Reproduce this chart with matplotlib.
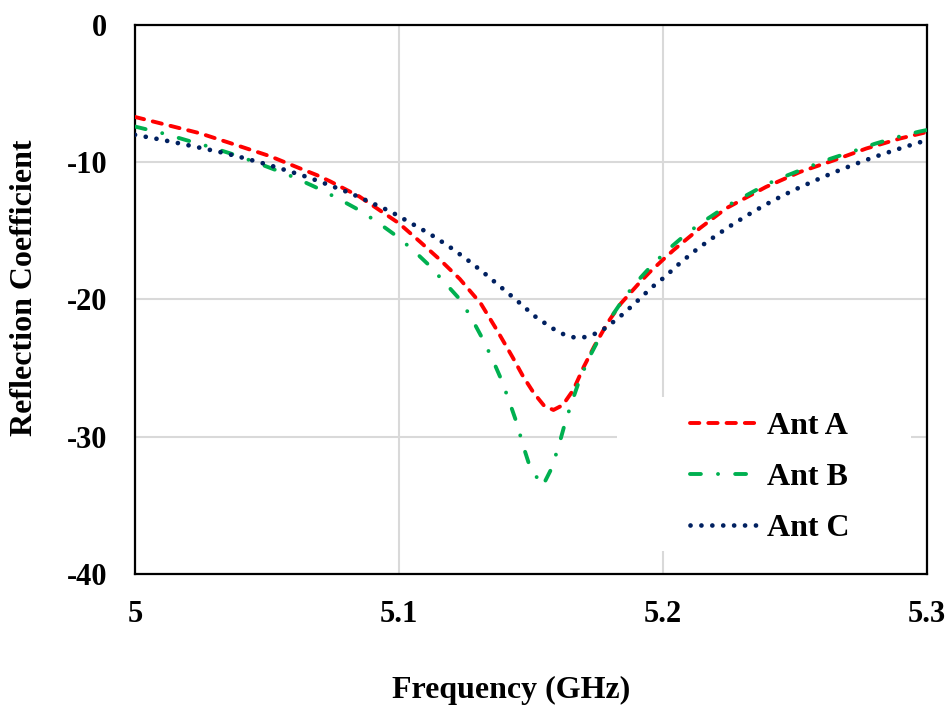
import matplotlib
matplotlib.use("Agg")
import matplotlib.pyplot as plt
from matplotlib.patches import Rectangle

# Ant A (red dashed)
freq_a = [5.000, 5.012, 5.0246, 5.036, 5.051, 5.0625, 5.0688, 5.074, 5.085, 5.100,
          5.108, 5.1155, 5.123, 5.131, 5.137, 5.143, 5.147, 5.151, 5.155, 5.1585,
          5.162, 5.166, 5.170, 5.174, 5.179, 5.184, 5.191, 5.195, 5.200, 5.204,
          5.214, 5.224, 5.239, 5.252, 5.265, 5.277, 5.290, 5.300]
s11_a = [-6.7, -7.28, -7.89, -8.6, -9.55, -10.45, -10.93, -11.4, -12.5, -14.45,
         -15.8, -17.1, -18.5, -20.3, -22.2, -24.2, -25.6, -26.8, -27.75, -28.05,
         -27.7, -26.6, -24.9, -23.4, -21.7, -20.3, -18.8, -18.0, -17.1, -16.4,
         -14.8, -13.35, -11.8, -10.7, -9.84, -9.0, -8.26, -7.8]

# Ant B (green dash-dot)
freq_b = [5.000, 5.0107, 5.0196, 5.0278, 5.036, 5.0442, 5.0524, 5.0603, 5.0682, 5.076,
          5.0836, 5.091, 5.0978, 5.1048, 5.1111, 5.117, 5.1231, 5.1273, 5.1319, 5.1355,
          5.1389, 5.1419, 5.1446, 5.1471, 5.1496, 5.1544, 5.1578, 5.1606, 5.1629, 5.1656,
          5.1683, 5.1721, 5.1755, 5.1803, 5.1856, 5.1906, 5.1963, 5.2029, 5.2096, 5.2166,
          5.2241, 5.2317, 5.2393, 5.2472, 5.2557, 5.2635, 5.2721, 5.280, 5.2885, 5.297, 5.300]
s11_b = [-7.4, -7.9, -8.4, -8.85, -9.35, -9.9, -10.5, -11.1, -11.8, -12.55,
         -13.35, -14.25, -15.2, -16.3, -17.45, -18.7, -20.0, -21.3, -22.95, -24.4,
         -25.9, -27.5, -29.0, -30.7, -32.2, -33.6, -32.3, -30.6, -29.0, -27.4,
         -25.9, -24.2, -22.95, -21.3, -19.8, -18.6, -17.4, -16.2, -15.1, -14.15,
         -13.2, -12.4, -11.6, -10.95, -10.3, -9.74, -9.2, -8.67, -8.18, -7.77, -7.65]

# Ant C (navy dotted)
freq_c = [5.000, 5.0084, 5.0167, 5.025, 5.0332, 5.0414, 5.0495, 5.0575, 5.0656, 5.0735,
          5.0814, 5.089, 5.0969, 5.1042, 5.1115, 5.1187, 5.1255, 5.1321, 5.1386, 5.1448,
          5.1513, 5.1581, 5.1619, 5.1658, 5.1701, 5.1742, 5.178, 5.1814, 5.1846, 5.1878,
          5.1909, 5.1939, 5.1971, 5.2004, 5.2067, 5.2131, 5.220, 5.227, 5.2342, 5.2416,
          5.2491, 5.2568, 5.2645, 5.2723, 5.2803, 5.2884, 5.2963, 5.300]
s11_c = [-8.0, -8.3, -8.62, -8.96, -9.3, -9.7, -10.13, -10.6, -11.1, -11.66,
         -12.24, -12.9, -13.6, -14.4, -15.2, -16.1, -17.05, -18.05, -19.1, -20.1,
         -21.2, -22.1, -22.5, -22.75, -22.75, -22.5, -22.1, -21.6, -21.1, -20.55,
         -20.0, -19.45, -18.9, -18.4, -17.3, -16.3, -15.35, -14.45, -13.6, -12.8,
         -12.07, -11.4, -10.76, -10.17, -9.6, -9.08, -8.6, -8.4]

x_ticks = [5, 5.1, 5.2, 5.3]
x_tick_labels = ["5", "5.1", "5.2", "5.3"]
y_ticks = [-40, -30, -20, -10, 0]

plt.rcParams['font.family'] = ['Liberation Serif', 'DejaVu Serif']
plt.rcParams['font.weight'] = 'bold'
plt.rcParams['axes.unicode_minus'] = False

fig = plt.figure(figsize=(9.5, 7.06), dpi=100)
ax = fig.add_axes([0.1421, 0.187, 0.8337, 0.7776])

ax.plot(freq_a, s11_a, color='#FF0000', linewidth=2.8, dashes=(2.4, 2.3),
        dash_capstyle='round', label='Ant A', zorder=3)
ax.plot(freq_b, s11_b, color='#00B050', linewidth=2.8, dashes=(2.8, 4.4, 0.01, 4.4),
        dash_capstyle='round', label='Ant B', zorder=3)
ax.plot(freq_c, s11_c, color='#002060', linewidth=3.4, dashes=(0.01, 2.3),
        dash_capstyle='round', label='Ant C', zorder=3)

ax.set_xlim(5, 5.3)
ax.set_ylim(-40, 0)
ax.set_xticks(x_ticks)
ax.set_xticklabels(x_tick_labels)
ax.set_yticks(y_ticks)
ax.tick_params(axis='both', length=0, labelsize=22)
ax.tick_params(axis='y', pad=20)
ax.tick_params(axis='x', pad=19)

ax.set_axisbelow(True)
ax.grid(True, color='#D9D9D9', linewidth=1.5)
for sp in ax.spines.values():
    sp.set_linewidth(1.6)
    sp.set_color('black')

# white legend area covering the gridlines
ax.add_patch(Rectangle((0.6086, 0.0419), 0.3712, 0.2805, transform=ax.transAxes,
                       facecolor='white', edgecolor='none', zorder=1))

ax.legend(loc='upper left', bbox_to_anchor=(0.7008, 0.295), frameon=False,
          fontsize=23, handlelength=2.25, handletextpad=0.15, labelspacing=0.67,
          borderpad=0, borderaxespad=0)

fig.text(0.0253, 0.592, 'Reflection Coefficient', rotation=90, ha='center', va='center',
         fontsize=23, fontweight='bold')
fig.text(0.5384, 0.0113, 'Frequency (GHz)', ha='center', va='baseline',
         fontsize=23, fontweight='bold')

fig.savefig('out.png', dpi=100)
